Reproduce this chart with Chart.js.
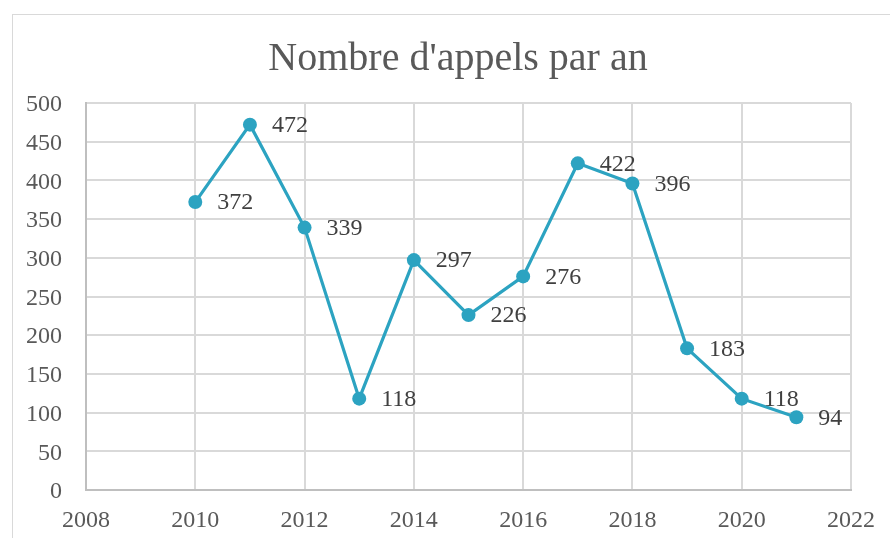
<!DOCTYPE html>
<html>
<head>
<meta charset="utf-8">
<title>Nombre d'appels par an</title>
<script src="https://cdn.jsdelivr.net/npm/chart.js@4"></script>
<style>
  html, body { margin: 0; padding: 0; background: #fff; overflow: hidden; }
  #wrap { position: relative; width: 890px; height: 538px; overflow: hidden; }
  /* cadre gris du graphique (coupé à droite et en bas comme sur l'original) */
  #cadre { position: absolute; left: 12px; top: 14px; width: 900px; height: 600px; border: 1px solid #d9d9d9; box-sizing: border-box; }
  canvas { position: absolute; left: 0; top: 0; }
</style>
</head>
<body>
<div id="wrap">
  <div id="cadre"></div>
  <canvas id="appelsChart" width="890" height="538"></canvas>
</div>
<script>
// ----------- données -----------
const annees = [2010, 2011, 2012, 2013, 2014, 2015, 2016, 2017, 2018, 2019, 2020, 2021];
const appels = [372, 472, 339, 118, 297, 226, 276, 422, 396, 183, 118, 94];
const ticksX = [2008, 2010, 2012, 2014, 2016, 2018, 2020, 2022];
const ticksY = [0, 50, 100, 150, 200, 250, 300, 350, 400, 450, 500];

const police = '"Liberation Serif", "DejaVu Serif", serif';
const couleur = '#2ca3c1';

// étiquettes de valeurs à droite de chaque point
const etiquettes = {
    id: 'etiquettes',
    afterLayout(chart) {
        // le titre est centré sur le cadre, pas sur le canvas
        if (chart.titleBlock) {
            chart.titleBlock.left = 26;
            chart.titleBlock.right = 890;
        }
    },
    afterDatasetsDraw(chart) {
        const ctx = chart.ctx;
        const meta = chart.getDatasetMeta(0);
        ctx.save();
        ctx.font = '24px ' + police;
        ctx.fillStyle = '#404040';
        ctx.textAlign = 'left';
        ctx.textBaseline = 'middle';
        meta.data.forEach((pt, i) => {
            ctx.fillText(String(appels[i]), pt.x + 22, pt.y + 1);
        });
        ctx.restore();
    }
};

const ctx = document.getElementById('appelsChart').getContext('2d');

new Chart(ctx, {
    type: 'scatter',
    data: {
        datasets: [{
            label: 'Appels',
            data: annees.map((a, i) => ({ x: a, y: appels[i] })),
            showLine: true,
            borderColor: couleur,
            backgroundColor: couleur,
            borderWidth: 3.2,
            pointRadius: 7,
            pointHoverRadius: 7,
            pointBorderWidth: 0,
            pointBackgroundColor: couleur,
            clip: false
        }]
    },
    options: {
        responsive: false,
        animation: false,
        events: [],
        layout: { padding: { left: 0, right: 39, top: 0, bottom: 0 } },
        plugins: {
            legend: { display: false },
            tooltip: { enabled: false },
            title: {
                display: true,
                text: "Nombre d'appels par an",
                color: '#595959',
                font: { family: police, size: 40, weight: 'normal' },
                padding: { top: 35, bottom: 20 }
            }
        },
        scales: {
            x: {
                type: 'linear',
                min: ticksX[0],
                max: ticksX[ticksX.length - 1],
                afterBuildTicks: (s) => { s.ticks = ticksX.map(v => ({ value: v })); },
                ticks: {
                    color: '#595959',
                    font: { family: police, size: 24 },
                    padding: 16,
                    maxRotation: 0,
                    callback: (v) => String(v)
                },
                grid: { color: '#d9d9d9', lineWidth: 2, drawTicks: false },
                border: { color: '#bfbfbf', width: 2 },
                afterFit: (s) => { s.height = 48; s.paddingLeft = 0; s.paddingRight = 0; }
            },
            y: {
                min: ticksY[0],
                max: ticksY[ticksY.length - 1],
                afterBuildTicks: (s) => { s.ticks = ticksY.map(v => ({ value: v })); },
                ticks: {
                    color: '#595959',
                    font: { family: police, size: 24 },
                    padding: 24,
                    labelOffset: 2
                },
                grid: { color: '#d9d9d9', lineWidth: 2, drawTicks: false },
                border: { color: '#bfbfbf', width: 2 },
                afterFit: (s) => { s.width = 86; s.paddingTop = 0; s.paddingBottom = 0; }
            }
        }
    },
    plugins: [etiquettes]
});
</script>
</body>
</html>
